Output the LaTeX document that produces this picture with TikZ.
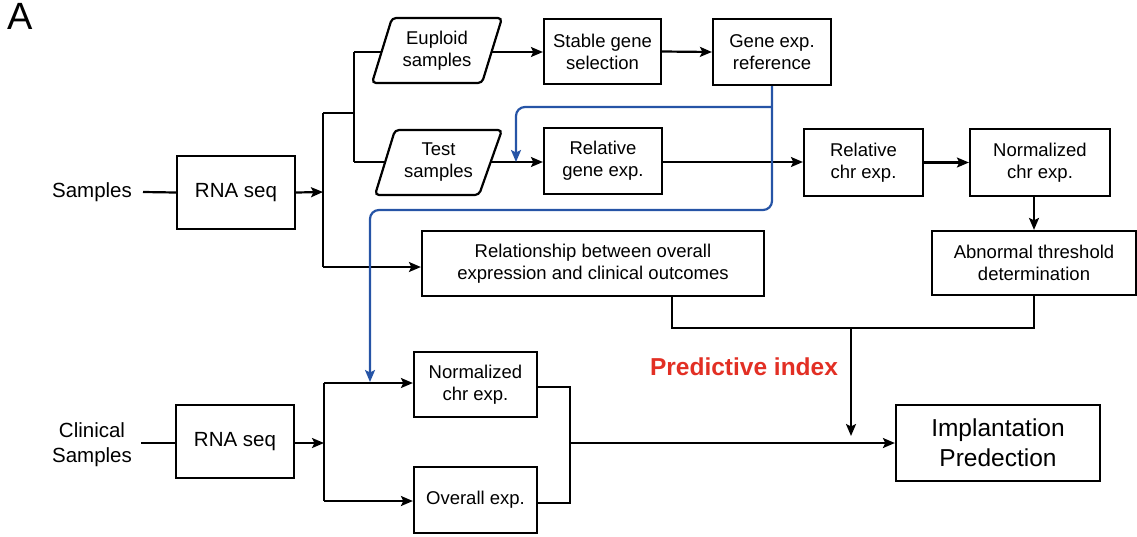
\documentclass[tikz,border=0pt]{standalone}
\usepackage{fontspec}
\setmainfont{Liberation Sans}
\usetikzlibrary{arrows.meta,calc}
\definecolor{predred}{RGB}{226,47,36}
\definecolor{refblue}{RGB}{38,84,166}
\begin{document}
\begin{tikzpicture}[x=1pt,y=-1pt,
  every node/.style={font=\fontsize{18.5}{22}\selectfont},
  bigtext/.style={font=\fontsize{20.5}{25}\selectfont},
  boxnode/.style={draw,line width=2.2pt,align=center,inner sep=0pt},
  plain/.style={align=center,inner sep=0pt},
  conn/.style={line width=2.2pt},
  arr/.style={line width=2.2pt,-{Stealth[length=12pt,width=10pt,inset=2.5pt]}},
  bluearr/.style={line width=2.2pt,draw=refblue,rounded corners=9pt,-{Stealth[length=12pt,width=10pt,inset=2.5pt]}},
  para/.style={line width=2.2pt,rounded corners=4pt}
]
\useasboundingbox (0,0) rectangle (1137,536);

% label A
\node[plain,anchor=north west,font=\fontsize{38}{40}\selectfont] (lblA) at (7,3) {A};

% upper row
\node[plain,bigtext] (samples) at (92,192) {Samples};
\coordinate (sampEnd) at (143,192);
\node[boxnode,bigtext,minimum width=118pt,minimum height=73pt] (rna1) at (236,192.5) {RNA seq};

% parallelograms
\draw[para] (392,18) -- (502,18) -- (482,83) -- (372,83) -- cycle;
\node[plain] (eup) at (437,50.5) {Euploid\\samples};
\coordinate (eupL) at (381.5,52);
\coordinate (eupR) at (491.5,52);

\draw[para] (395,130) -- (502,130) -- (479,195) -- (375,195) -- cycle;
\node[plain] (test) at (438.5,162.5) {Test\\samples};
\coordinate (testL) at (384.5,162);
\coordinate (testR) at (491,162);

\node[boxnode,minimum width=117pt,minimum height=65pt] (stable) at (602.5,51.5) {Stable gene\\selection};
\node[boxnode,minimum width=118pt,minimum height=66pt] (generef) at (772,52) {Gene exp.\\reference};
\node[boxnode,minimum width=118pt,minimum height=66pt] (relgene) at (603,161) {Relative\\gene exp.};
\node[boxnode,minimum width=119pt,minimum height=67pt] (relchr) at (863.5,162.5) {Relative\\chr exp.};
\node[boxnode,minimum width=140pt,minimum height=67pt] (normchr) at (1040,162.5) {Normalized\\chr exp.};
\node[boxnode,minimum width=204pt,minimum height=64pt] (abn) at (1034,263) {Abnormal threshold\\determination};
\node[boxnode,minimum width=342pt,minimum height=65pt] (rel) at (593,263.5) {Relationship between overall\\expression and clinical outcomes};

% lower row
\node[plain,bigtext] (clin) at (92,444.5) {Clinical\\Samples};
\coordinate (clinEnd) at (141,443);
\node[boxnode,bigtext,minimum width=118pt,minimum height=73pt] (rna2) at (235,441.5) {RNA seq};
\node[boxnode,minimum width=123pt,minimum height=65pt] (norm2) at (475.5,384.5) {Normalized\\chr exp.};
\node[boxnode,minimum width=123pt,minimum height=66pt] (overall) at (475.5,500) {Overall exp.};
\node[boxnode,minimum width=204pt,minimum height=76pt,font=\fontsize{24.5}{30}\selectfont] (impl) at (998,443) {Implantation\\Predection};

\node[plain,text=predred,font=\fontsize{24.5}{28}\selectfont\bfseries] (pred) at (744,367) {Predictive index};

% junction coordinates
\coordinate (j1) at (323,192);
\coordinate (j1top) at (323,113);
\coordinate (j1bot) at (323,267);
\coordinate (j2top) at (354,52);
\coordinate (j2mid) at (354,113);
\coordinate (j2bot) at (354,162);
\coordinate (j3) at (324,443);
\coordinate (j3top) at (324,383);
\coordinate (j3bot) at (324,501);
\coordinate (k1) at (570,387);
\coordinate (k2) at (570,503);
\coordinate (k3) at (570,443);
\coordinate (b1) at (672,328);
\coordinate (b2) at (1034,328);
\coordinate (b3) at (851,328);
\coordinate (b3end) at (851,436);

% black connectors upper
\draw[conn] (sampEnd) -- (rna1.west);
\draw[arr] (rna1.east) -- (j1);
\draw[conn] (j1top) -- (j1bot);
\draw[conn] (j1top) -- (j2mid);
\draw[conn] (j2top) -- (j2bot);
\draw[conn] (j2top) -- (eupL);
\draw[conn] (j2bot) -- (testL);
\draw[arr] (eupR) -- (stable.west |- eupR);
\draw[arr] (stable.east) -- (generef.west);
\draw[arr] (testR) -- (relgene.west |- testR);
\draw[arr] (relgene.east |- testR) -- (relchr.west |- testR);
\draw[arr] (relchr.east) -- (normchr.west);
\draw[arr] (abn.north |- normchr.south) -- (abn.north);
\draw[arr] (j1bot) -- (rel.west |- j1bot);
\draw[conn] (b1 |- rel.south) -- (b1) -- (b2) -- (abn.south);
\draw[arr] (b3) -- (b3end);

% black connectors lower
\draw[conn] (clinEnd) -- (rna2.west |- clinEnd);
\draw[arr] (rna2.east |- j3) -- (j3);
\draw[conn] (j3top) -- (j3bot);
\draw[arr] (j3top) -- (norm2.west |- j3top);
\draw[arr] (j3bot) -- (overall.west |- j3bot);
\draw[conn] (norm2.east |- k1) -- (k1) -- (k2) -- (overall.east |- k2);
\draw[arr] (k3) -- (impl.west |- k3);

% blue connectors
\draw[bluearr] (generef.south) -- (772,210) -- (370,210) -- (370,382);
\draw[bluearr] (772,107) -- (516,107) -- (516,162);
\end{tikzpicture}
\end{document}
